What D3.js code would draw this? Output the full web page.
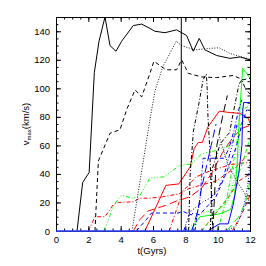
<!DOCTYPE html>
<html>
<head>
<meta charset="utf-8">
<script src="https://cdn.jsdelivr.net/npm/d3@7"></script>
<style>
  html, body { margin: 0; padding: 0; background: #fff; }
  svg { display: block; font-family: "Liberation Sans", Arial, sans-serif; }
</style>
</head>
<body>
<svg id="chart" width="266" height="266"></svg>
<script>
// vmax(t) tracks: [t (Gyr), vmax (km/s)]
const blackSolid = [[1.3,0],[1.65,34],[2.05,41],[2.37,111],[2.66,133],[3.03,150],[3.34,130],[3.71,126],[4.06,133],[4.78,144],[5.3,145],[5.81,142],[6.12,140],[6.74,139],[7.46,141],[8.08,137],[8.49,126],[8.86,135],[9.21,127],[9.94,123],[10.76,121],[11.38,122],[12,120]];
const blackDashed = [[2.41,0],[2.62,49],[3.34,68.5],[3.96,71],[4.37,85],[4.89,99],[5.3,94],[5.81,110.5],[6.06,119],[6.8,113],[7.46,113],[7.77,120],[8.18,110.5],[9.01,108],[9.91,107.5],[10.95,109],[11.57,106],[12,107]];
const blackDotted = [[4.7,0],[5.81,78],[6.12,98],[6.6,115],[7.44,133],[7.75,130],[8.58,127],[9.5,128],[10.1,128.4],[10.74,124.5],[11.57,121.7],[12,120.3]];
const blackDashDotA = [[8.2,0],[8.3,40],[8.5,70],[8.85,90],[9.1,106],[9.3,110],[9.35,100],[9.4,80],[9.5,60],[9.6,30],[9.7,0]];
const blackDashDotB = [[9.55,0],[9.65,43],[10.16,61],[10.5,66],[10.74,69],[10.95,82],[11.32,103],[11.5,106],[11.7,100],[12,96]];
const blackLongDash = [[9.7,0],[9.85,35],[9.95,60],[10.3,80],[10.6,95]];
const blackDotted2 = [[10.1,66],[10.66,46],[11.3,33],[12,20]];

const redSolid = [[5.5,0],[6.8,32],[7.6,33],[8.3,45],[8.55,58],[8.8,62],[9.05,62],[9.4,73],[10.1,84],[10.76,83],[11.38,82.5],[11.89,79],[12,75.5]];
const redDashDot = [[2.0,0],[2.41,10],[3.03,10],[3.54,18.4],[3.86,20],[4.78,20.5],[5.19,23],[5.81,23],[6.6,24],[7.6,26],[8.27,30],[9.9,35],[11.15,45],[12,55]];
const redDashDot2 = [[7.0,0],[7.85,28],[8.68,38],[9.5,42],[10.1,44],[10.74,46.5],[11.57,47.7],[12,48]];
const redLongDash = [[4.78,0],[5.19,8],[5.7,14],[6.8,18],[7.45,21],[8.3,24],[9.0,30],[9.6,40],[10.3,55],[10.9,65],[11.5,72],[12,74]];
const redDashed = [[9.0,0],[10.14,16],[10.76,25],[11.3,35],[12,40]];
const redDashed2 = [[10.9,0],[11.5,12],[12,25]];

const greenDashDotDot = [[2.95,0],[3.25,8],[3.55,18],[4.05,25],[4.75,23],[5.2,25],[5.8,37],[6.7,38],[7.65,46],[8.37,47],[9.0,54],[10.1,57],[10.8,60],[11.2,72],[11.5,85],[12,88]];
const greenSolid = [[8.3,0],[8.9,10],[10.1,12],[10.8,15],[11.05,25],[11.2,46],[11.33,78],[11.55,114],[11.95,108],[12,107]];
const greenLongDash = [[10.55,0],[11.38,11],[11.8,23],[12,35]];
const greenDotted = [[8.0,0],[8.49,5],[8.8,11],[9.32,13.5],[10.0,15],[10.6,20],[11.0,35],[11.4,60]];
const greenDashDot = [[10.0,0],[10.6,25],[11.0,50],[11.3,70],[11.6,80],[12,78]];
const greenDashed = [[9.0,0],[9.7,10],[10.4,20],[11.0,30],[11.6,50],[12,65]];

const blueZero = [[0,0],[12,0]];
const blueSolid = [[9.4,0],[10.1,5],[10.65,5],[10.95,18],[11.3,40],[11.5,60],[11.55,84],[11.6,90],[12,90]];
const blueDashed = [[4.97,0],[5.59,8],[5.9,12.6],[7.55,12.6],[7.85,13.8],[8.37,11.2],[8.47,12.6],[8.89,11.4],[9.91,24.3],[10.53,40.6],[11.15,59],[11.5,75],[11.8,85]];
const blueDashDot = [[8.6,0],[8.7,10],[8.9,22],[9.1,51],[10.4,51],[10.7,58],[11.0,70],[11.3,85],[11.5,92]];
const blueDashDotDot = [[7.9,0],[8.29,13.5],[9.1,20.5],[9.52,23],[9.94,27.5],[10.35,37],[10.55,46],[10.9,60],[11.2,75]];
const blueDotted = [[10.55,0],[11.18,4],[11.6,16],[11.9,35],[12,50]];
const blueLongDash = [[8.4,0],[8.8,15],[9.0,30],[9.32,46],[9.6,60],[9.9,75]];

const markerT = 7.75;
const xTicks = [0, 2, 4, 6, 8, 10, 12];
const yTicks = [0, 20, 40, 60, 80, 100, 120, 140];

// IDL-like linestyles
const DASH = {
  solid: null, dotted: "1,1.6", dashed: "4,3", dashdot: "4,2,1,2",
  dashdotdot: "4,2,1,2,1,2,1,2", longdash: "8,4"
};

const series = [
  [redDashDot, "#ff0000", "dashdot"], [redDashDot2, "#ff0000", "dashdot"],
  [redLongDash, "#ff0000", "longdash"], [redDashed, "#ff0000", "dashed"],
  [redDashed2, "#ff0000", "dashed"], [redSolid, "#ff0000", "solid"],
  [greenDashDotDot, "#00ff00", "dashdotdot"], [greenDotted, "#00ff00", "dotted"],
  [greenDashDot, "#00ff00", "dashdot"], [greenDashed, "#00ff00", "dashed"],
  [greenLongDash, "#00ff00", "longdash"], [greenSolid, "#00ff00", "solid"],
  [blueDashed, "#0000ff", "dashed"], [blueDashDot, "#0000ff", "dashdot"],
  [blueDashDotDot, "#0000ff", "dashdotdot"], [blueDotted, "#0000ff", "dotted"],
  [blueLongDash, "#0000ff", "longdash"], [blueSolid, "#0000ff", "solid"],
  [blackDotted2, "#000", "dotted"], [blackLongDash, "#000", "longdash"],
  [blackDashDotA, "#000", "dashdot"], [blackDashDotB, "#000", "dashdot"],
  [blackDotted, "#000", "dotted"], [blackDashed, "#000", "dashed"],
  [blackSolid, "#000", "solid"]
];

const W = 266, H = 266;
const M = { top: 17, right: 16, bottom: 35, left: 56 };
const svg = d3.select("#chart");
const x = d3.scaleLinear().domain([0, 12]).range([M.left, W - M.right]);
const y = d3.scaleLinear().domain([0, 150]).range([H - M.bottom, M.top]);

const plot = svg.append("g");
svg.append("defs").append("clipPath").attr("id", "clip")
  .append("rect").attr("x", M.left).attr("y", M.top - 1)
  .attr("width", W - M.left - M.right).attr("height", H - M.top - M.bottom + 2);
const lines = plot.append("g").attr("clip-path", "url(#clip)");

const line = d3.line().x(d => x(d[0])).y(d => y(d[1]));
series.forEach(([pts, color, style]) => {
  lines.append("path")
    .attr("d", line(pts)).attr("fill", "none")
    .attr("stroke", color).attr("stroke-width", style === "dotted" ? 0.9 : 1)
    .attr("stroke-dasharray", DASH[style]);
});

lines.append("line")
  .attr("x1", x(markerT)).attr("x2", x(markerT))
  .attr("y1", y(0)).attr("y2", y(150))
  .attr("stroke", "#000").attr("stroke-width", 1);

// axes: ticks inward on all four sides
const xMinor = d3.range(0, 12.01, 0.5);
const yMinor = d3.range(0, 150.1, 5);
function style(g) {
  g.selectAll(".domain").attr("stroke", "#000").attr("stroke-width", 1);
  g.selectAll(".tick line").attr("stroke", "#000");
  g.selectAll("text").attr("fill", "#000").attr("font-size", 9.5)
    .attr("font-family", "Liberation Sans, Arial, sans-serif");
}
const bx = H - M.bottom, lx = M.left;
[[d3.axisBottom, bx, true], [d3.axisTop, M.top, false]].forEach(([ax, pos, lab]) => {
  svg.append("g").attr("transform", `translate(0,${pos})`)
    .call(ax(x).tickValues(xMinor).tickSize(-2.5).tickFormat("")).call(style);
  svg.append("g").attr("transform", `translate(0,${pos})`)
    .call(ax(x).tickValues(xTicks).tickSize(-5).tickPadding(5)
      .tickFormat(lab ? d3.format("d") : "")).call(style);
});
[[d3.axisLeft, lx, true], [d3.axisRight, W - M.right, false]].forEach(([ax, pos, lab]) => {
  svg.append("g").attr("transform", `translate(${pos},0)`)
    .call(ax(y).tickValues(yMinor).tickSize(-2.5).tickFormat("")).call(style);
  svg.append("g").attr("transform", `translate(${pos},0)`)
    .call(ax(y).tickValues(yTicks).tickSize(-5).tickPadding(6)
      .tickFormat(lab ? d3.format("d") : "")).call(style);
});

// many tracks sit on vmax = 0: they show as a thick blue band on the axis
svg.append("path")
  .attr("d", line(blueZero)).attr("fill", "none")
  .attr("stroke", "#3344ff").attr("stroke-width", 2).attr("stroke-opacity", 0.8);

svg.append("text")
  .attr("x", (M.left + W - M.right) / 2 - 1).attr("y", 254)
  .attr("text-anchor", "middle").attr("font-size", 9.5).text("t(Gyrs)");

const yl = svg.append("text")
  .attr("transform", "translate(29,124) rotate(-90)")
  .attr("text-anchor", "middle").attr("font-size", 9.5);
yl.append("tspan").text("v");
yl.append("tspan").attr("font-size", 6).attr("dy", 2).text("max");
yl.append("tspan").attr("dy", -2).text("(km/s)");
</script>
</body>
</html>
